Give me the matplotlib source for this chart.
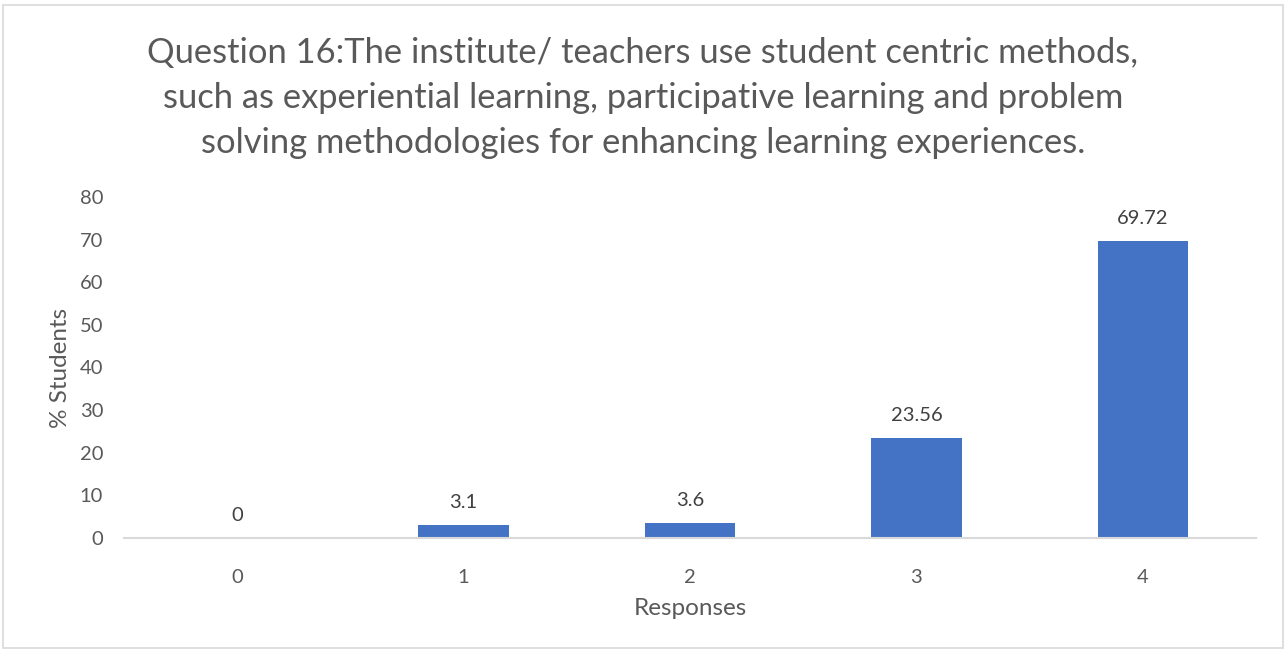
import matplotlib.pyplot as plt
from matplotlib.patches import Rectangle

responses = ["0", "1", "2", "3", "4"]
pct_students = [0, 3.1, 3.6, 23.56, 69.72]
value_labels = ["0", "3.1", "3.6", "23.56", "69.72"]

title = ("Question 16:The institute/ teachers use student centric methods,\n"
         "such as experiential learning, participative learning and problem\n"
         "solving methodologies for enhancing learning experiences.")

plt.rcParams["font.family"] = ["Lato", "DejaVu Sans"]
text_col = "#595959"
bar_col = "#4472C4"

fig = plt.figure(figsize=(12.86, 6.52), dpi=100)
ax = fig.add_axes([0.0964, 0.1748, 0.8803, 0.5231])

x = list(range(len(responses)))
ax.bar(x, pct_students, width=0.4, color=bar_col)
ax.set_xlim(-0.5, len(responses) - 0.5)
ax.set_ylim(0, 80)
ax.set_yticks(range(0, 81, 10))
ax.set_xticks(x)
ax.set_xticklabels(responses)

for xi, v, lab in zip(x, pct_students, value_labels):
    ax.annotate(lab, (xi, v), xytext=(0, 10), textcoords="offset points",
                ha="center", va="bottom", fontsize=14.5, color="#404040")

for s in ["top", "right", "left"]:
    ax.spines[s].set_visible(False)
ax.spines["bottom"].set_color("#D9D9D9")
ax.spines["bottom"].set_linewidth(1.5)
ax.tick_params(axis="both", length=0, labelsize=14.5, labelcolor=text_col)
ax.tick_params(axis="x", pad=22)
ax.tick_params(axis="y", pad=15)

ax.set_xlabel("Responses", fontsize=17.5, color=text_col, labelpad=9)
ax.set_ylabel("% Students", fontsize=17.5, color=text_col, labelpad=6)

fig.text(0.5, 0.943, title, ha="center", va="top", fontsize=24.8,
         color=text_col, linespacing=1.5)

fig.patches.append(Rectangle((0.002, 0.006), 0.996, 0.986, transform=fig.transFigure,
                             fill=False, edgecolor="#D9D9D9", linewidth=1.2))

fig.savefig("out.png", dpi=100)
